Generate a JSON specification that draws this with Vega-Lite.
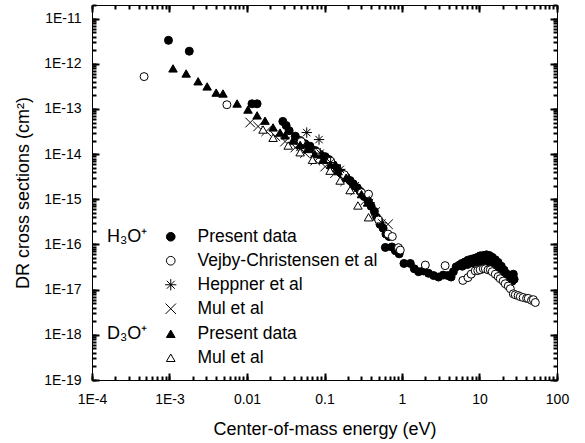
{
  "$schema": "https://vega.github.io/schema/vega-lite/v6.json",
  "width": 465,
  "height": 375,
  "autosize": {"type": "none"},
  "padding": {"left": 92, "top": 5, "right": 28, "bottom": 63},
  "background": "white",
  "config": {
    "font": "Liberation Sans",
    "view": {"stroke": null},
    "axis": {
      "grid": false,
      "domainColor": "black",
      "labelColor": "black",
      "titleColor": "black",
      "labelFontSize": 14,
      "titleFontSize": 18,
      "titleFontWeight": "normal"
    },
    "legend": {
      "labelFontSize": 17.5,
      "titleFontSize": 18,
      "titleFontWeight": "normal",
      "labelColor": "black",
      "titleColor": "black",
      "symbolStrokeWidth": 1,
      "symbolSize": 75,
      "rowPadding": 5,
      "labelOffset": 18,
      "labelLimit": 0,
      "titleOrient": "left",
      "titlePadding": 14,
      "padding": 0
    }
  },
  "datasets": {
    "pts": [
      {"ion": "H", "series": "Present data", "energy": 0.00097, "cs": 3.3e-12},
      {"ion": "H", "series": "Present data", "energy": 0.0018, "cs": 1.9e-12},
      {"ion": "H", "series": "Present data", "energy": 0.0116, "cs": 1.3e-13},
      {"ion": "H", "series": "Present data", "energy": 0.0135, "cs": 1.3e-13},
      {"ion": "H", "series": "Present data", "energy": 0.029, "cs": 5.3e-14},
      {"ion": "H", "series": "Present data", "energy": 0.032, "cs": 4.3e-14},
      {"ion": "H", "series": "Present data", "energy": 0.035, "cs": 3.3e-14},
      {"ion": "H", "series": "Present data", "energy": 0.042, "cs": 2.5e-14},
      {"ion": "H", "series": "Present data", "energy": 0.0485, "cs": 2.0e-14},
      {"ion": "H", "series": "Present data", "energy": 0.056, "cs": 1.7e-14},
      {"ion": "H", "series": "Present data", "energy": 0.065, "cs": 1.5e-14},
      {"ion": "H", "series": "Present data", "energy": 0.076, "cs": 1.2e-14},
      {"ion": "H", "series": "Present data", "energy": 0.088, "cs": 9.8e-15},
      {"ion": "H", "series": "Present data", "energy": 0.102, "cs": 8.8e-15},
      {"ion": "H", "series": "Present data", "energy": 0.114, "cs": 7.6e-15},
      {"ion": "H", "series": "Present data", "energy": 0.13, "cs": 5.8e-15},
      {"ion": "H", "series": "Present data", "energy": 0.145, "cs": 4.9e-15},
      {"ion": "H", "series": "Present data", "energy": 0.166, "cs": 3.8e-15},
      {"ion": "H", "series": "Present data", "energy": 0.19, "cs": 3.1e-15},
      {"ion": "H", "series": "Present data", "energy": 0.214, "cs": 2.6e-15},
      {"ion": "H", "series": "Present data", "energy": 0.235, "cs": 2.2e-15},
      {"ion": "H", "series": "Present data", "energy": 0.265, "cs": 1.8e-15},
      {"ion": "H", "series": "Present data", "energy": 0.288, "cs": 1.5e-15},
      {"ion": "H", "series": "Present data", "energy": 0.325, "cs": 1.15e-15},
      {"ion": "H", "series": "Present data", "energy": 0.37, "cs": 8.8e-16},
      {"ion": "H", "series": "Present data", "energy": 0.40, "cs": 7.0e-16},
      {"ion": "H", "series": "Present data", "energy": 0.44, "cs": 5.4e-16},
      {"ion": "H", "series": "Present data", "energy": 0.47, "cs": 4.0e-16},
      {"ion": "H", "series": "Present data", "energy": 0.52, "cs": 2.8e-16},
      {"ion": "H", "series": "Present data", "energy": 0.57, "cs": 2.3e-16},
      {"ion": "H", "series": "Present data", "energy": 0.62, "cs": 1.7e-16},
      {"ion": "H", "series": "Present data", "energy": 0.68, "cs": 1.5e-16},
      {"ion": "H", "series": "Present data", "energy": 0.61, "cs": 8.6e-17},
      {"ion": "H", "series": "Present data", "energy": 0.74, "cs": 8.8e-17},
      {"ion": "H", "series": "Present data", "energy": 0.82, "cs": 7.3e-17},
      {"ion": "H", "series": "Present data", "energy": 0.92, "cs": 6.2e-17},
      {"ion": "H", "series": "Present data", "energy": 1.06, "cs": 3.8e-17},
      {"ion": "H", "series": "Present data", "energy": 1.28, "cs": 3.8e-17},
      {"ion": "H", "series": "Present data", "energy": 1.44, "cs": 2.9e-17},
      {"ion": "H", "series": "Present data", "energy": 1.64, "cs": 2.5e-17},
      {"ion": "H", "series": "Present data", "energy": 1.89, "cs": 2.6e-17},
      {"ion": "H", "series": "Present data", "energy": 2.2, "cs": 2.3e-17},
      {"ion": "H", "series": "Present data", "energy": 2.56, "cs": 2.05e-17},
      {"ion": "H", "series": "Present data", "energy": 2.96, "cs": 1.9e-17},
      {"ion": "H", "series": "Present data", "energy": 3.4, "cs": 2.1e-17},
      {"ion": "H", "series": "Present data", "energy": 3.9, "cs": 2.05e-17},
      {"ion": "H", "series": "Present data", "energy": 4.3, "cs": 1.9e-17},
      {"ion": "H", "series": "Present data", "energy": 4.6, "cs": 2.5e-17},
      {"ion": "H", "series": "Present data", "energy": 5.0, "cs": 3.2e-17},
      {"ion": "H", "series": "Present data", "energy": 5.5, "cs": 3.5e-17},
      {"ion": "H", "series": "Present data", "energy": 5.9, "cs": 3.8e-17},
      {"ion": "H", "series": "Present data", "energy": 6.5, "cs": 4.1e-17},
      {"ion": "H", "series": "Present data", "energy": 7.1, "cs": 4.5e-17},
      {"ion": "H", "series": "Present data", "energy": 7.8, "cs": 4.7e-17},
      {"ion": "H", "series": "Present data", "energy": 8.5, "cs": 4.9e-17},
      {"ion": "H", "series": "Present data", "energy": 9.4, "cs": 5.2e-17},
      {"ion": "H", "series": "Present data", "energy": 10.2, "cs": 5.6e-17},
      {"ion": "H", "series": "Present data", "energy": 11.2, "cs": 5.7e-17},
      {"ion": "H", "series": "Present data", "energy": 12.3, "cs": 5.9e-17},
      {"ion": "H", "series": "Present data", "energy": 13.4, "cs": 5.7e-17},
      {"ion": "H", "series": "Present data", "energy": 14.6, "cs": 5.2e-17},
      {"ion": "H", "series": "Present data", "energy": 16.0, "cs": 4.6e-17},
      {"ion": "H", "series": "Present data", "energy": 17.4, "cs": 4.0e-17},
      {"ion": "H", "series": "Present data", "energy": 19.1, "cs": 3.3e-17},
      {"ion": "H", "series": "Present data", "energy": 20.8, "cs": 2.7e-17},
      {"ion": "H", "series": "Present data", "energy": 22.7, "cs": 2.2e-17},
      {"ion": "H", "series": "Present data", "energy": 25.0, "cs": 1.9e-17},
      {"ion": "H", "series": "Present data", "energy": 27.3, "cs": 2.2e-17},
      {"ion": "H", "series": "Present data", "energy": 26.5, "cs": 1.55e-17},
      {"ion": "H", "series": "Present data", "energy": 6.0, "cs": 3.3e-17},
      {"ion": "H", "series": "Present data", "energy": 7.0, "cs": 3.6e-17},
      {"ion": "H", "series": "Present data", "energy": 8.0, "cs": 3.9e-17},
      {"ion": "H", "series": "Present data", "energy": 9.0, "cs": 4.1e-17},
      {"ion": "H", "series": "Present data", "energy": 10.0, "cs": 4.2e-17},
      {"ion": "H", "series": "Present data", "energy": 11.0, "cs": 4.3e-17},
      {"ion": "H", "series": "Present data", "energy": 12.0, "cs": 4.2e-17},
      {"ion": "H", "series": "Present data", "energy": 13.0, "cs": 4.0e-17},
      {"ion": "H", "series": "Present data", "energy": 14.0, "cs": 3.8e-17},
      {"ion": "H", "series": "Present data", "energy": 15.5, "cs": 3.4e-17},
      {"ion": "H", "series": "Present data", "energy": 17.0, "cs": 3.0e-17},
      {"ion": "H", "series": "Present data", "energy": 18.5, "cs": 2.6e-17},
      {"ion": "H", "series": "Present data", "energy": 20.0, "cs": 2.3e-17},
      {"ion": "H", "series": "Present data", "energy": 24.0, "cs": 1.8e-17},
      {"ion": "H", "series": "Present data", "energy": 28.0, "cs": 1.7e-17},
      {"ion": "H", "series": "Vejby-Christensen et al", "energy": 0.00047, "cs": 5.2e-13},
      {"ion": "H", "series": "Vejby-Christensen et al", "energy": 0.0055, "cs": 1.24e-13},
      {"ion": "H", "series": "Vejby-Christensen et al", "energy": 0.05, "cs": 1.9e-14},
      {"ion": "H", "series": "Vejby-Christensen et al", "energy": 0.08, "cs": 1.1e-14},
      {"ion": "H", "series": "Vejby-Christensen et al", "energy": 0.12, "cs": 7.0e-15},
      {"ion": "H", "series": "Vejby-Christensen et al", "energy": 0.18, "cs": 3.5e-15},
      {"ion": "H", "series": "Vejby-Christensen et al", "energy": 0.3, "cs": 1.4e-15},
      {"ion": "H", "series": "Vejby-Christensen et al", "energy": 0.37, "cs": 1.3e-15},
      {"ion": "H", "series": "Vejby-Christensen et al", "energy": 0.5, "cs": 3.5e-16},
      {"ion": "H", "series": "Vejby-Christensen et al", "energy": 0.66, "cs": 1.7e-16},
      {"ion": "H", "series": "Vejby-Christensen et al", "energy": 0.75, "cs": 1.5e-16},
      {"ion": "H", "series": "Vejby-Christensen et al", "energy": 0.9, "cs": 8.5e-17},
      {"ion": "H", "series": "Vejby-Christensen et al", "energy": 0.95, "cs": 7.5e-17},
      {"ion": "H", "series": "Vejby-Christensen et al", "energy": 2.0, "cs": 3.5e-17},
      {"ion": "H", "series": "Vejby-Christensen et al", "energy": 3.6, "cs": 3.4e-17},
      {"ion": "H", "series": "Vejby-Christensen et al", "energy": 6.1, "cs": 1.6e-17},
      {"ion": "H", "series": "Vejby-Christensen et al", "energy": 7.1, "cs": 1.85e-17},
      {"ion": "H", "series": "Vejby-Christensen et al", "energy": 7.8, "cs": 2.2e-17},
      {"ion": "H", "series": "Vejby-Christensen et al", "energy": 8.8, "cs": 2.6e-17},
      {"ion": "H", "series": "Vejby-Christensen et al", "energy": 9.5, "cs": 2.65e-17},
      {"ion": "H", "series": "Vejby-Christensen et al", "energy": 10.2, "cs": 2.75e-17},
      {"ion": "H", "series": "Vejby-Christensen et al", "energy": 11.2, "cs": 2.9e-17},
      {"ion": "H", "series": "Vejby-Christensen et al", "energy": 11.9, "cs": 2.9e-17},
      {"ion": "H", "series": "Vejby-Christensen et al", "energy": 12.9, "cs": 2.75e-17},
      {"ion": "H", "series": "Vejby-Christensen et al", "energy": 13.8, "cs": 2.75e-17},
      {"ion": "H", "series": "Vejby-Christensen et al", "energy": 14.6, "cs": 2.5e-17},
      {"ion": "H", "series": "Vejby-Christensen et al", "energy": 16.0, "cs": 2.2e-17},
      {"ion": "H", "series": "Vejby-Christensen et al", "energy": 17.4, "cs": 1.95e-17},
      {"ion": "H", "series": "Vejby-Christensen et al", "energy": 18.5, "cs": 1.75e-17},
      {"ion": "H", "series": "Vejby-Christensen et al", "energy": 20.2, "cs": 1.55e-17},
      {"ion": "H", "series": "Vejby-Christensen et al", "energy": 21.5, "cs": 1.35e-17},
      {"ion": "H", "series": "Vejby-Christensen et al", "energy": 23.5, "cs": 1.2e-17},
      {"ion": "H", "series": "Vejby-Christensen et al", "energy": 25.0, "cs": 1.05e-17},
      {"ion": "H", "series": "Vejby-Christensen et al", "energy": 27.3, "cs": 8.1e-18},
      {"ion": "H", "series": "Vejby-Christensen et al", "energy": 29.0, "cs": 7.7e-18},
      {"ion": "H", "series": "Vejby-Christensen et al", "energy": 31.5, "cs": 7.4e-18},
      {"ion": "H", "series": "Vejby-Christensen et al", "energy": 33.6, "cs": 7.0e-18},
      {"ion": "H", "series": "Vejby-Christensen et al", "energy": 36.6, "cs": 6.7e-18},
      {"ion": "H", "series": "Vejby-Christensen et al", "energy": 40.5, "cs": 6.4e-18},
      {"ion": "H", "series": "Vejby-Christensen et al", "energy": 42.6, "cs": 6.4e-18},
      {"ion": "H", "series": "Vejby-Christensen et al", "energy": 46.9, "cs": 5.8e-18},
      {"ion": "H", "series": "Vejby-Christensen et al", "energy": 49.5, "cs": 6.0e-18},
      {"ion": "H", "series": "Vejby-Christensen et al", "energy": 52.5, "cs": 5.2e-18},
      {"ion": "H", "series": "Mul et al", "energy": 0.011, "cs": 5.0e-14},
      {"ion": "H", "series": "Mul et al", "energy": 0.0139, "cs": 4.1e-14},
      {"ion": "H", "series": "Mul et al", "energy": 0.0177, "cs": 3.2e-14},
      {"ion": "H", "series": "Mul et al", "energy": 0.0232, "cs": 2.5e-14},
      {"ion": "H", "series": "Mul et al", "energy": 0.031, "cs": 1.9e-14},
      {"ion": "H", "series": "Mul et al", "energy": 0.042, "cs": 1.4e-14},
      {"ion": "H", "series": "Mul et al", "energy": 0.056, "cs": 1.05e-14},
      {"ion": "H", "series": "Mul et al", "energy": 0.076, "cs": 7.2e-15},
      {"ion": "H", "series": "Mul et al", "energy": 0.102, "cs": 5.3e-15},
      {"ion": "H", "series": "Mul et al", "energy": 0.137, "cs": 3.8e-15},
      {"ion": "H", "series": "Mul et al", "energy": 0.185, "cs": 2.5e-15},
      {"ion": "H", "series": "Mul et al", "energy": 0.249, "cs": 1.56e-15},
      {"ion": "H", "series": "Mul et al", "energy": 0.335, "cs": 9.4e-16},
      {"ion": "H", "series": "Mul et al", "energy": 0.45, "cs": 5.2e-16},
      {"ion": "H", "series": "Mul et al", "energy": 0.66, "cs": 2.8e-16},
      {"ion": "H", "series": "Heppner et al", "energy": 0.048, "cs": 1.4e-14},
      {"ion": "H", "series": "Heppner et al", "energy": 0.059, "cs": 3.0e-14},
      {"ion": "H", "series": "Heppner et al", "energy": 0.085, "cs": 2.1e-14},
      {"ion": "H", "series": "Heppner et al", "energy": 0.088, "cs": 1.05e-14},
      {"ion": "H", "series": "Heppner et al", "energy": 0.12, "cs": 6.5e-15},
      {"ion": "H", "series": "Heppner et al", "energy": 0.16, "cs": 4.6e-15},
      {"ion": "H", "series": "Heppner et al", "energy": 0.25, "cs": 2.0e-15},
      {"ion": "H", "series": "Heppner et al", "energy": 0.38, "cs": 8.5e-16},
      {"ion": "H", "series": "Heppner et al", "energy": 0.55, "cs": 3.0e-16},
      {"ion": "D", "series": "Present data", "energy": 0.00111, "cs": 7.9e-13},
      {"ion": "D", "series": "Present data", "energy": 0.00164, "cs": 6.1e-13},
      {"ion": "D", "series": "Present data", "energy": 0.00234, "cs": 4.1e-13},
      {"ion": "D", "series": "Present data", "energy": 0.00306, "cs": 3.15e-13},
      {"ion": "D", "series": "Present data", "energy": 0.0040, "cs": 2.3e-13},
      {"ion": "D", "series": "Present data", "energy": 0.0049, "cs": 2.2e-13},
      {"ion": "D", "series": "Present data", "energy": 0.00745, "cs": 1.32e-13},
      {"ion": "D", "series": "Present data", "energy": 0.0103, "cs": 9.7e-14},
      {"ion": "D", "series": "Present data", "energy": 0.0135, "cs": 7.2e-14},
      {"ion": "D", "series": "Present data", "energy": 0.0171, "cs": 5.5e-14},
      {"ion": "D", "series": "Present data", "energy": 0.0217, "cs": 3.9e-14},
      {"ion": "D", "series": "Present data", "energy": 0.0267, "cs": 3.0e-14},
      {"ion": "D", "series": "Present data", "energy": 0.031, "cs": 2.6e-14},
      {"ion": "D", "series": "Present data", "energy": 0.039, "cs": 2.0e-14},
      {"ion": "D", "series": "Present data", "energy": 0.0485, "cs": 1.6e-14},
      {"ion": "D", "series": "Present data", "energy": 0.06, "cs": 1.3e-14},
      {"ion": "D", "series": "Present data", "energy": 0.075, "cs": 1.0e-14},
      {"ion": "D", "series": "Present data", "energy": 0.095, "cs": 7.5e-15},
      {"ion": "D", "series": "Present data", "energy": 0.12, "cs": 5.8e-15},
      {"ion": "D", "series": "Present data", "energy": 0.15, "cs": 4.2e-15},
      {"ion": "D", "series": "Present data", "energy": 0.19, "cs": 3.0e-15},
      {"ion": "D", "series": "Present data", "energy": 0.24, "cs": 2.0e-15},
      {"ion": "D", "series": "Present data", "energy": 0.3, "cs": 1.3e-15},
      {"ion": "D", "series": "Present data", "energy": 0.36, "cs": 8.5e-16},
      {"ion": "D", "series": "Mul et al", "energy": 0.0161, "cs": 3.5e-14},
      {"ion": "D", "series": "Mul et al", "energy": 0.0217, "cs": 2.3e-14},
      {"ion": "D", "series": "Mul et al", "energy": 0.034, "cs": 1.55e-14},
      {"ion": "D", "series": "Mul et al", "energy": 0.0485, "cs": 1.1e-14},
      {"ion": "D", "series": "Mul et al", "energy": 0.07, "cs": 7.5e-15},
      {"ion": "D", "series": "Mul et al", "energy": 0.118, "cs": 4.3e-15},
      {"ion": "D", "series": "Mul et al", "energy": 0.159, "cs": 2.6e-15},
      {"ion": "D", "series": "Mul et al", "energy": 0.214, "cs": 1.6e-15},
      {"ion": "D", "series": "Mul et al", "energy": 0.27, "cs": 7.3e-16},
      {"ion": "D", "series": "Mul et al", "energy": 0.37, "cs": 4.0e-16}
    ]
  },
  "data": {"name": "pts"},
  "layer": [
    {
      "mark": {"type": "point", "opacity": 0},
      "encoding": {
        "x": {
          "field": "energy", "type": "quantitative",
          "scale": {"type": "log", "domain": [0.0001, 100], "nice": false},
          "axis": {"orient": "bottom", "title": null, "labels": false, "domain": false, "ticks": true, "tickColor": "black", "tickWidth": 2, "tickSize": -7,
            "values": [0.0001, 0.001, 0.01, 0.1, 1, 10, 100]}
        },
        "y": {
          "field": "cs", "type": "quantitative",
          "scale": {"type": "log", "domain": [1e-19, 2e-11], "nice": false},
          "axis": {"orient": "left", "title": null, "labels": false, "domain": false, "ticks": true, "tickColor": "black", "tickWidth": 2, "tickSize": -7,
            "values": [1e-19, 1e-18, 1e-17, 1e-16, 1e-15, 1e-14, 1e-13, 1e-12, 1e-11]}
        }
      }
    },
    {
      "mark": {"type": "point", "opacity": 0},
      "encoding": {
        "x": {
          "field": "energy", "type": "quantitative",
          "scale": {"type": "log", "domain": [0.0001, 100], "nice": false},
          "axis": {"orient": "top", "title": null, "labels": false, "domain": false, "ticks": true, "tickColor": "black", "tickWidth": 2, "tickSize": -7,
            "values": [0.0001, 0.001, 0.01, 0.1, 1, 10, 100]}
        },
        "y": {
          "field": "cs", "type": "quantitative",
          "scale": {"type": "log", "domain": [1e-19, 2e-11], "nice": false},
          "axis": {"orient": "right", "title": null, "labels": false, "domain": false, "ticks": true, "tickColor": "black", "tickWidth": 2, "tickSize": -7,
            "values": [1e-19, 1e-18, 1e-17, 1e-16, 1e-15, 1e-14, 1e-13, 1e-12, 1e-11]}
        }
      }
    },
    {
      "transform": [{"filter": "datum.ion == 'H'"}],
      "mark": {"type": "point", "opacity": 1, "fillOpacity": 1, "strokeWidth": 1, "size": 64},
      "encoding": {
        "x": {
          "field": "energy", "type": "quantitative",
          "scale": {"type": "log", "domain": [0.0001, 100], "nice": false},
          "axis": {
            "orient": "bottom",
            "title": "Center-of-mass energy (eV)",
            "titlePadding": 14,
            "ticks": true,
            "tickColor": "black",
            "tickWidth": 2,
            "tickSize": -4,
            "labelFlush": false,
            "labelOverlap": false,
            "labelExpr": "abs(log(datum.value)/LN10 - round(log(datum.value)/LN10)) > 0.001 ? '' : (datum.value < 0.005 ? '1E' + round(log(datum.value)/LN10) : format(datum.value, '~g'))",
            "labelPadding": 16
          }
        },
        "y": {
          "field": "cs", "type": "quantitative",
          "scale": {"type": "log", "domain": [1e-19, 2e-11], "nice": false},
          "axis": {
            "orient": "left",
            "title": "DR cross sections (cm²)",
            "titlePadding": 11,
            "ticks": true,
            "tickColor": "black",
            "tickWidth": 2,
            "tickSize": -4,
            "labelFlush": false,
            "labelOverlap": false,
            "labelExpr": "abs(log(datum.value)/LN10 - round(log(datum.value)/LN10)) > 0.001 ? '' : '1E' + round(log(datum.value)/LN10)",
            "labelPadding": 15
          }
        },
        "shape": {
          "field": "series", "type": "nominal",
          "scale": {
            "domain": ["Present data", "Vejby-Christensen et al", "Heppner et al", "Mul et al"],
            "range": ["circle", "circle", "M0,-1.3L0,1.3M-1.3,0L1.3,0M-0.92,-0.92L0.92,0.92M-0.92,0.92L0.92,-0.92", "M-1.2,-1.2L1.2,1.2M-1.2,1.2L1.2,-1.2"]
          },
          "legend": {"title": "H₃O⁺", "orient": "none", "legendX": 15, "legendY": 223, "titleAnchor": "start", "titleBaseline": "top"}
        },
        "fill": {
          "field": "series", "type": "nominal",
          "scale": {
            "domain": ["Present data", "Vejby-Christensen et al", "Heppner et al", "Mul et al"],
            "range": ["black", "white", "black", "black"]
          },
          "legend": {"title": "H₃O⁺", "orient": "none", "legendX": 15, "legendY": 223, "titleAnchor": "start", "titleBaseline": "top"}
        },
        "stroke": {
          "field": "series", "type": "nominal",
          "scale": {
            "domain": ["Present data", "Vejby-Christensen et al", "Heppner et al", "Mul et al"],
            "range": ["black", "black", "black", "black"]
          },
          "legend": {"title": "H₃O⁺", "orient": "none", "legendX": 15, "legendY": 223, "titleAnchor": "start", "titleBaseline": "top"}
        }
      }
    },
    {
      "transform": [{"filter": "datum.ion == 'D'"}],
      "mark": {"type": "point", "opacity": 1, "fillOpacity": 1, "strokeWidth": 1, "size": 72},
      "encoding": {
        "x": {
          "field": "energy", "type": "quantitative",
          "scale": {"type": "log", "domain": [0.0001, 100], "nice": false},
          "axis": {"orient": "top", "title": null, "labels": false, "ticks": true, "tickColor": "black", "tickWidth": 2, "tickSize": -4}
        },
        "y": {
          "field": "cs", "type": "quantitative",
          "scale": {"type": "log", "domain": [1e-19, 2e-11], "nice": false},
          "axis": {"orient": "right", "title": null, "labels": false, "ticks": true, "tickColor": "black", "tickWidth": 2, "tickSize": -4}
        },
        "shape": {
          "field": "series", "type": "nominal",
          "scale": {"domain": ["Present data", "Mul et al"], "range": ["triangle-up", "triangle-up"]},
          "legend": {"title": "D₃O⁺", "orient": "none", "legendX": 15, "legendY": 320, "titleAnchor": "start", "titleBaseline": "top"}
        },
        "fill": {
          "field": "series", "type": "nominal",
          "scale": {"domain": ["Present data", "Mul et al"], "range": ["black", "white"]},
          "legend": {"title": "D₃O⁺", "orient": "none", "legendX": 15, "legendY": 320, "titleAnchor": "start", "titleBaseline": "top"}
        },
        "stroke": {
          "field": "series", "type": "nominal",
          "scale": {"domain": ["Present data", "Mul et al"], "range": ["black", "black"]},
          "legend": {"title": "D₃O⁺", "orient": "none", "legendX": 15, "legendY": 320, "titleAnchor": "start", "titleBaseline": "top"}
        }
      }
    }
  ],
  "resolve": {
    "scale": {"shape": "independent", "fill": "independent", "stroke": "independent"},
    "axis": {"x": "independent", "y": "independent"},
    "legend": {"shape": "independent", "fill": "independent", "stroke": "independent"}
  }
}
